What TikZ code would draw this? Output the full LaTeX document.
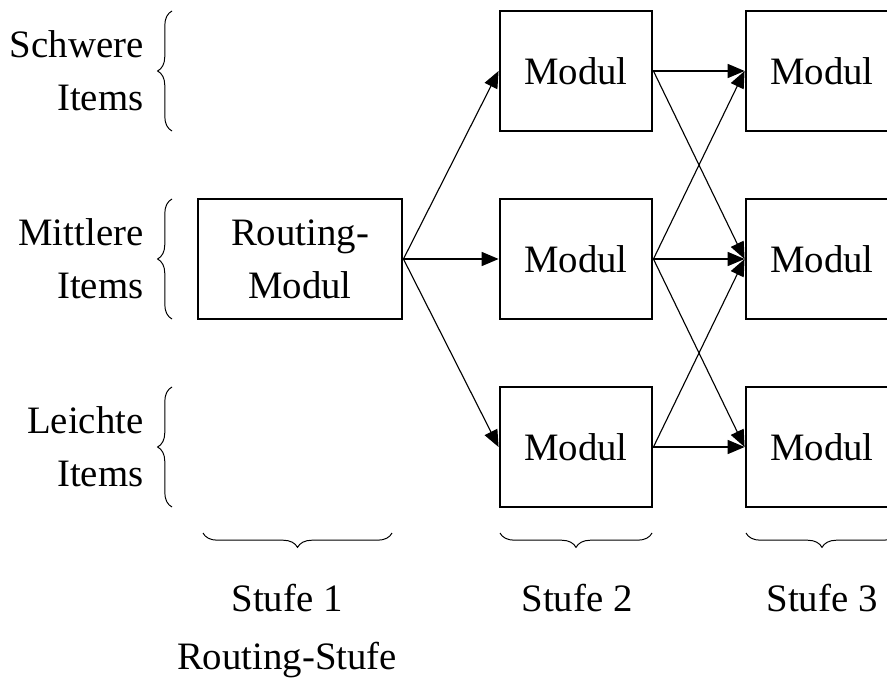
\documentclass[tikz,border=0pt]{standalone}
\usepackage{fontspec}
\setmainfont{Liberation Serif}
\usetikzlibrary{arrows.meta,decorations.pathreplacing,positioning}

\begin{document}
\begin{tikzpicture}[x=0.0125cm,y=-0.0125cm,
    font=\fontsize{13.8}{18.8}\selectfont,
    modul/.style={draw,line width=1pt,minimum width=1.9cm,minimum height=1.5cm,inner sep=0pt},
    pfeil/.style={-{Triangle[length=6pt,width=5pt]},line width=0.4pt},
    klammer/.style={decorate,decoration={brace,amplitude=0.18cm},line width=0.35pt}]
    \useasboundingbox (0,0) rectangle (887,681);
    \node[modul,minimum width=2.55cm,align=center] (route) at (300,259) {Routing-\\Modul};
    \foreach \n/\y in {a/71,b/259,c/447}{
        \node[modul] (m2\n) at (576,\y) {Modul};
        \node[modul] (m3\n) at (822,\y) {Modul};
    }
    % Gewichtsklassen links
    \foreach \n/\y/\t in {schwer/71/Schwere,mittel/259/Mittlere,leicht/447/Leichte}{
        \node[anchor=east,align=right,inner sep=0pt] (\n) at (144,\y) {\t\\Items};
        \draw[klammer] (172,\y+60) -- (172,\y-60);
    }
    % Stufen unten
    \draw[klammer] (392,533) -- (203,533);
    \draw[klammer] (652,533) -- (500,533);
    \draw[klammer] (898,533) -- (746,533);
    \node (s1) at (287,598) {Stufe 1};
    \node (s2) at (577,598) {Stufe 2};
    \node (s3) at (822,598) {Stufe 3};
    \node (rs) at (287,660) {Routing-Stufe};
    % Verbindungen
    \foreach \n in {a,b,c}
        \draw[pfeil] (route.east) -- (m2\n.west);
    \draw[pfeil] (m2a.east) -- (m3a.west);
    \draw[pfeil] (m2a.east) -- (m3b.west);
    \draw[pfeil] (m2b.east) -- (m3a.west);
    \draw[pfeil] (m2b.east) -- (m3b.west);
    \draw[pfeil] (m2b.east) -- (m3c.west);
    \draw[pfeil] (m2c.east) -- (m3b.west);
    \draw[pfeil] (m2c.east) -- (m3c.west);
\end{tikzpicture}
\end{document}
